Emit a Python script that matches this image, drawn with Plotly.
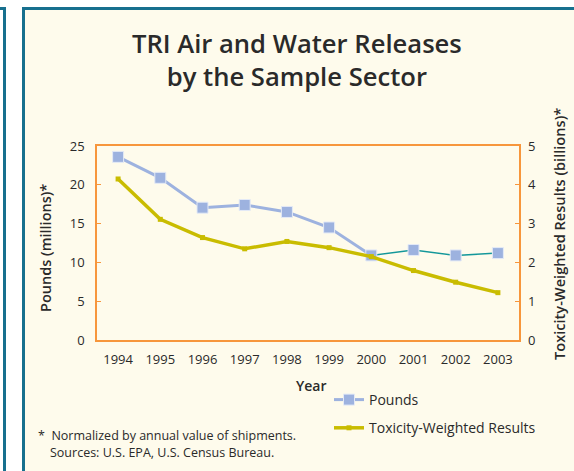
import plotly.graph_objects as go

years = ["1994", "1995", "1996", "1997", "1998", "1999", "2000", "2001", "2002", "2003"]
pounds = [23.6, 20.9, 17.05, 17.4, 16.5, 14.5, 10.9, 11.6, 10.9, 11.2]
toxicity = [4.15, 3.11, 2.64, 2.35, 2.54, 2.38, 2.15, 1.79, 1.49, 1.22]
left_ticks = [0, 5, 10, 15, 20, 25]
right_ticks = [0, 1, 2, 3, 4, 5]
split_year = "2000"

W, H = 574, 471
L, R, T, B = 97, 519, 146, 340

def px(x):
    return (x - L) / (R - L)

def py(y):
    return (B - y) / (B - T)

FONT = "Open Sans"
TEAL = "#17708E"
BG = "#FEFBEC"
ORANGE = "#F7963C"
BLUE = "#9DB2DF"
YEL = "#C9BC00"
TXT = "#2a2a2a"

k = years.index(split_year)

fig = go.Figure()
fig.add_trace(go.Scatter(
    x=years, y=toxicity, yaxis="y2", name="Toxicity-Weighted Results",
    mode="lines+markers", line=dict(color=YEL, width=3.5),
    marker=dict(symbol="square", size=5, color=YEL), legendrank=2, legendgroup="t"))
fig.add_trace(go.Scatter(
    x=years[k:], y=pounds[k:], mode="lines", line=dict(color="#13979A", width=1.5),
    showlegend=False, hoverinfo="skip"))
fig.add_trace(go.Scatter(
    x=years[:k + 1], y=pounds[:k + 1], name="Pounds", mode="lines+markers",
    line=dict(color=BLUE, width=3),
    marker=dict(symbol="square", size=11, color=BLUE, line=dict(color="#E4EAF6", width=1)),
    legendrank=1, legendgroup="p"))
fig.add_trace(go.Scatter(
    x=years[k + 1:], y=pounds[k + 1:], mode="markers", showlegend=False,
    marker=dict(symbol="square", size=11, color=BLUE, line=dict(color="#E4EAF6", width=1))))

shapes = [
    dict(type="rect", xref="paper", yref="paper", layer="below",
         x0=px(23.5), x1=px(600), y0=py(8.5), y1=py(500),
         fillcolor=BG, line=dict(color=TEAL, width=3)),
    dict(type="rect", xref="paper", yref="paper", layer="below",
         x0=px(-30), x1=px(4.5), y0=py(8.5), y1=py(500),
         fillcolor="white", line=dict(color=TEAL, width=3)),
]

def ann(text, x, y, size, weight=400, angle=0, xanchor="center"):
    return dict(text=text, xref="paper", yref="paper", x=px(x), y=py(y),
                textangle=angle, showarrow=False, xanchor=xanchor, yanchor="middle",
                font=dict(family=FONT, size=size, color=TXT, weight=weight))

annotations = [
    ann("TRI Air and Water Releases<br>by the Sample Sector", 297, 60, 25.6, 600),
    ann("Pounds (millions)*", 45, 248, 14.5, 600, -90),
    ann("Toxicity-Weighted Results (billions)*", 559, 234, 14.6, 600, -90),
    ann("Year", 311, 385, 14, 600),
    ann("*  Normalized by annual value of shipments.", 36, 435, 12.5, 400, 0, "left"),
    ann("Sources: U.S. EPA, U.S. Census Bureau.", 48, 452, 12.5, 400, 0, "left"),
]

fig.update_layout(
    width=W, height=H,
    margin=dict(l=L, r=W - R, t=T, b=H - B, pad=0),
    paper_bgcolor="white", plot_bgcolor=BG,
    font=dict(family=FONT, size=13, color=TXT),
    showlegend=True,
    legend=dict(x=px(329), y=py(384), xanchor="left", yanchor="top",
                bgcolor="rgba(0,0,0,0)", font=dict(family=FONT, size=14, color=TXT),
                traceorder="grouped", tracegroupgap=7),
    xaxis=dict(type="category", categoryorder="array", categoryarray=years,
               range=[-0.5, len(years) - 0.5], showgrid=False, zeroline=False,
               showline=True, linecolor=ORANGE, linewidth=1.5, mirror=True,
               ticks="", ticklabelstandoff=7, tickfont=dict(size=13)),
    yaxis=dict(range=[0, 25], tickvals=left_ticks, showgrid=False, zeroline=False,
               showline=True, linecolor=ORANGE, linewidth=1.5, mirror=True,
               ticks="inside", ticklen=4, tickcolor=ORANGE, ticklabelstandoff=8,
               tickfont=dict(size=13)),
    yaxis2=dict(range=[0, 5], tickvals=right_ticks, overlaying="y", side="right",
                showgrid=False, zeroline=False, showline=False,
                ticks="inside", ticklen=4, tickcolor=ORANGE, ticklabelstandoff=8,
                tickfont=dict(size=13)),
    shapes=shapes, annotations=annotations,
)

fig.write_html("out.html", config={"displayModeBar": False},
               post_script="document.body.style.margin='0';document.body.style.overflow='hidden';")
